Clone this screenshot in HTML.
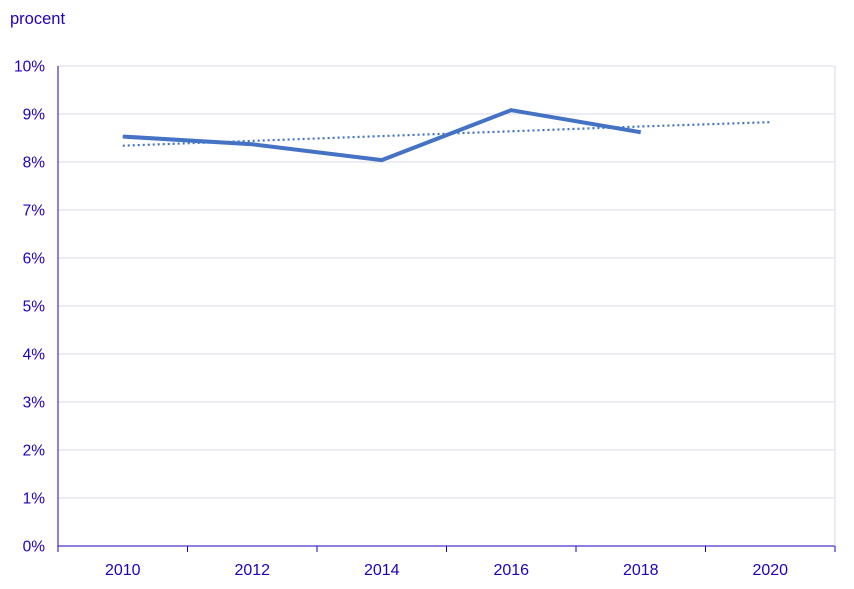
<!DOCTYPE html>
<html><head><meta charset="utf-8"><style>
body{margin:0;background:#fff;}
svg{display:block;font-family:"Liberation Sans",sans-serif;}
</style></head><body>
<svg id="chart" width="854" height="589">
<text x="10" y="24" font-size="16.5" fill="#1e00be">procent</text>
<g id="grid"></g><g id="axes"></g><g id="series"></g>
</svg>
<script>
const categories=["2010","2012","2014","2016","2018","2020"];
const actualValues=[8.53,8.37,8.04,9.08,8.62,null];
const trendValues=[8.34,8.44,8.54,8.64,8.74,8.83];
const yTicks=[0,1,2,3,4,5,6,7,8,9,10];
const NS="http://www.w3.org/2000/svg";
const L=58,R=835,T=66,B=546,txt="#1e00be";
const bw=(R-L)/categories.length;
const xs=i=>L+bw*(i+0.5);
const ys=v=>B-(v/10)*(B-T);
function mk(tag,attrs,parent){const e=document.createElementNS(NS,tag);for(const k in attrs)e.setAttribute(k,attrs[k]);parent.appendChild(e);return e;}
const g=document.getElementById('grid'),a=document.getElementById('axes'),s=document.getElementById('series');
yTicks.forEach(t=>{
 const ln=mk('line',{x1:L,x2:R,y1:ys(t),y2:ys(t),stroke:t===0?"#1e00be":"#d9d9ee","stroke-width":1},g);
 
 
 const tx=mk('text',{x:L-13,y:ys(t)+5.5,"text-anchor":"end","font-size":15.5,fill:txt},a);
 tx.textContent=t+"%";
 
 
});
const rb=mk('line',{x1:R,x2:R,y1:T,y2:B,stroke:"#d9d9ee"},g);


const ya=mk('line',{x1:L,x2:L,y1:T,y2:B,stroke:"#1e00be"},a);


for(let i=0;i<=categories.length;i++){
 const tk=mk('line',{x1:L+bw*i,x2:L+bw*i,y1:B,y2:B+6,stroke:"#1e00be"},a);
 
 
}
categories.forEach((c,i)=>{
 const tx=mk('text',{x:xs(i),y:B+29,"text-anchor":"middle","font-size":16,fill:txt},a);
 tx.textContent=c;
 
 
});
const tp=trendValues.map((v,i)=>xs(i)+","+ys(v)).join(" ");
const tl=mk('polyline',{points:tp,fill:"none",stroke:"#4472c4","stroke-width":2.2,"stroke-dasharray":"2 3"},s);


const ap=actualValues.map((v,i)=>v==null?null:xs(i)+","+ys(v)).filter(p=>p).join(" ");
const al=mk('polyline',{points:ap,fill:"none",stroke:"#4472c4","stroke-width":4,"stroke-linejoin":"round"},s);


</script>
</body></html>
